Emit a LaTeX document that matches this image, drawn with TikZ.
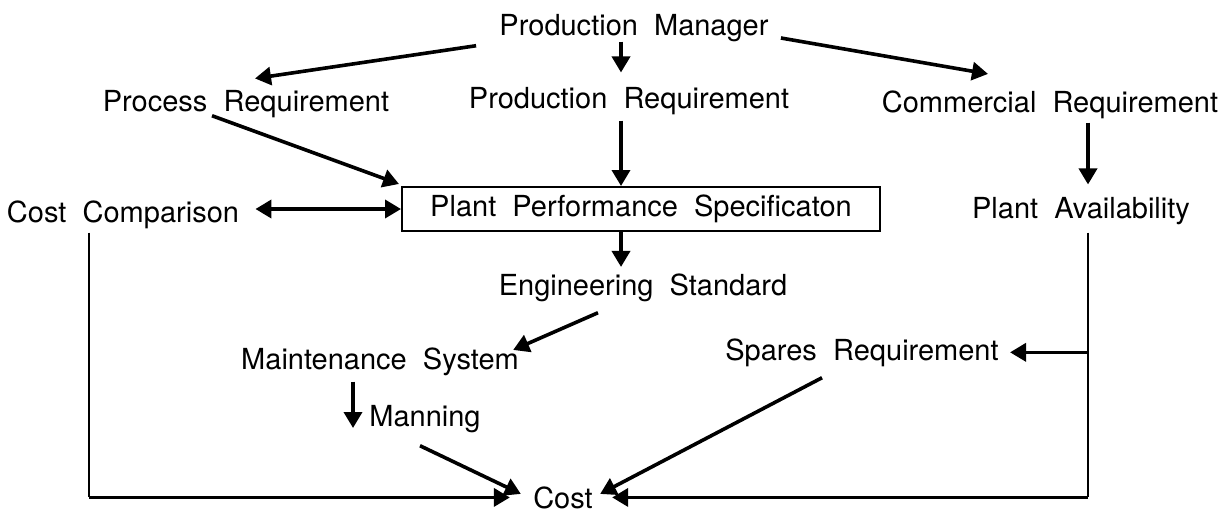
\documentclass[tikz,border=0pt]{standalone}
\usepackage{fontspec}
\setmainfont[WordSpace=2]{TeX Gyre Heros}
\usetikzlibrary{positioning, arrows.meta, calc}
\tikzset{
    lbl/.style={
        inner sep=0pt,
        anchor=base,
        font=\fontsize{14.5}{17}\selectfont
    },
    specbox/.style={
        draw,
        line width=1pt,
        minimum width=239pt,
        minimum height=22pt,
        inner sep=0pt,
        font=\fontsize{14.5}{17}\selectfont
    },
    arr/.style={
        line width=1.8pt,
        -{Triangle[length=8pt,width=9pt]}
    },
    dbl/.style={
        line width=1.8pt,
        {Triangle[length=8pt,width=9pt]}-{Triangle[length=8pt,width=9pt]}
    },
    wire/.style={
        line width=0.9pt
    }
}

\begin{document}
\begin{tikzpicture}[x=0.5pt,y=-0.5pt]
    \useasboundingbox (0,0) rectangle (1229,514);

    % columns the straight runs follow
    \coordinate (mid) at (621,0);
    \coordinate (lt) at (89,0);
    \coordinate (rt) at (1088,0);
    \coordinate (mx) at (353,0);

    % top rows
    \node[lbl] (pm) at (634,35) {Production Manager};
    \node[lbl] (procreq) at (246,111) {Process Requirement};
    \node[lbl] (prodreq) at (629,108) {Production Requirement};
    \node[lbl] (commreq) at (1050,112) {Commercial Requirement};

    % middle row
    \node[specbox] (spec) at (641,209) {Plant Performance Specificaton};
    \node[lbl] (costcomp) at (123,222) {Cost Comparison};
    \node[lbl] (avail) at (1081,218) {Plant Availability};

    % lower part
    \node[lbl] (engstd) at (643,295) {Engineering Standard};
    \node[lbl] (maint) at (380,369) {Maintenance System};
    \node[lbl] (spares) at (862,360) {Spares Requirement};
    \node[lbl] (manning) at (425,426) {Manning};
    \node[lbl] (cost) at (563,508) {Cost};

    % from the manager
    \draw[arr] ($(pm.south west)+(-23,4)$) -- ($(procreq.north)+(9,-11)$);
    \draw[arr, shorten >=7pt] (pm.south -| mid) -- (prodreq.north -| mid);
    \draw[arr] ($(pm.base east)+(12,3)$) -- ($(commreq.north)+(-62,-16)$);

    % into the specification
    \draw[arr] ($(procreq.south)+(-34,-2)$) -- ($(spec.north west)+(-2,-2)$);
    \draw[arr, shorten <=3pt] (prodreq.south -| mid) -- (spec.north -| mid);
    \draw[dbl, shorten <=8pt] (costcomp.east |- spec) -- (spec.west);
    \draw[arr, shorten <=2pt, shorten >=6pt] (commreq.south -| rt) -- (avail.north -| rt);

    % down to the cost
    \draw[arr, shorten >=3pt] (spec.south -| mid) -- (engstd.north -| mid);
    \draw[arr] ($(engstd.south)+(-45,11)$) -- ($(maint.north east)+(-6,3)$);
    \draw[arr, shorten <=3pt, shorten >=-1pt] (maint.south -| mx) -- (manning.base -| mx);
    \draw[arr] ($(manning.south)+(-5,13)$) -- ($(cost.north west)+(-12,8)$);
    \draw[arr] ($(spares.south)+(-40,11)$) -- ($(cost.north east)+(7,8)$);

    % side runs
    \draw[wire, shorten <=2pt] (costcomp.south -| lt) -- (cost.west -| lt);
    \draw[arr, shorten >=11.5pt] (cost.west -| lt) -- (cost.west);
    \draw[wire, shorten <=4pt] (avail.south -| rt) -- (cost.east -| rt);
    \draw[arr, shorten >=9.5pt] (cost.east -| rt) -- (cost.east);
    \draw[arr, shorten >=5.5pt] (spares.east -| rt) -- (spares.east);

\end{tikzpicture}
\end{document}
